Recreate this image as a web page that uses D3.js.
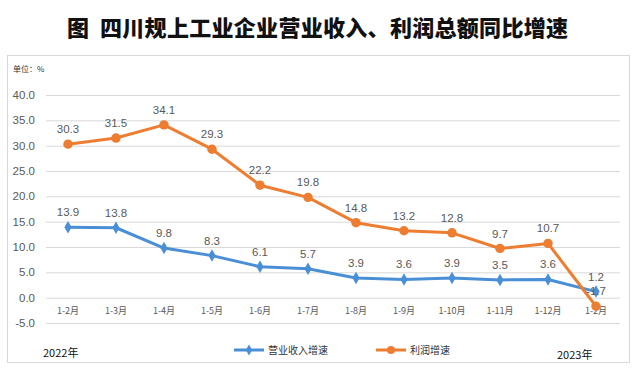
<!DOCTYPE html>
<html>
<head>
<meta charset="utf-8">
<script src="https://cdn.jsdelivr.net/npm/d3@7"></script>
<style>
    body { margin: 0; background: #fff; }
    svg text { font-family: "Noto Sans CJK SC", "Liberation Sans", sans-serif; }
    svg text.num { font-family: "Liberation Sans", Arial, sans-serif; }
</style>
</head>
<body>
<svg class="chart" width="640" height="372"></svg>
<script>
var categories = ["1-2月", "1-3月", "1-4月", "1-5月", "1-6月", "1-7月", "1-8月", "1-9月", "1-10月", "1-11月", "1-12月", "1-2月"];
var revenueGrowth = [13.9, 13.8, 9.8, 8.3, 6.1, 5.7, 3.9, 3.6, 3.9, 3.5, 3.6, 1.2];
var profitGrowth = [30.3, 31.5, 34.1, 29.3, 22.2, 19.8, 14.8, 13.2, 12.8, 9.7, 10.7, -1.7];
var yTicks = [-5, 0, 5, 10, 15, 20, 25, 30, 35, 40];
var seriesNames = ["营业收入增速", "利润增速"];

var blue = "#4a8fd6";
var orange = "#ed7d31";

var svg = d3.select("svg.chart");

// title
svg.append("text")
    .attr("x", 67)
    .attr("y", 36)
    .attr("font-size", 22)
    .attr("font-weight", 900)
    .attr("fill", "#111")
    .text("图");
svg.append("text")
    .attr("x", 100)
    .attr("y", 36)
    .attr("font-size", 22)
    .attr("font-weight", 900)
    .attr("fill", "#111")
    .attr("textLength", 468)
    .text("四川规上工业企业营业收入、利润总额同比增速");

// frame
svg.append("rect")
    .attr("x", 7.5)
    .attr("y", 55.5)
    .attr("width", 622)
    .attr("height", 307)
    .attr("fill", "none")
    .attr("stroke", "#d9d9d9");

svg.append("text")
    .attr("x", 13)
    .attr("y", 72)
    .attr("font-size", 8)
    .attr("fill", "#333")
    .text("单位：%");

var x = d3.scaleBand()
    .domain(d3.range(categories.length))
    .range([44, 620]);

var y = d3.scaleLinear()
    .domain([-5, 40])
    .range([323, 95]);

// grid + y labels
var grid = svg.append("g");
grid.selectAll("line")
    .data(yTicks)
    .enter()
    .append("line")
    .attr("x1", 46)
    .attr("x2", 620)
    .attr("y1", function (d) { return y(d) + 0.5; })
    .attr("y2", function (d) { return y(d) + 0.5; })
    .attr("stroke", "#d9d9d9")
    .attr("stroke-width", 1);

grid.selectAll("text")
    .data(yTicks)
    .enter()
    .append("text")
    .classed("num", true)
    .attr("x", 35)
    .attr("y", function (d) { return y(d) + 4; })
    .attr("text-anchor", "end")
    .attr("font-size", 11.5)
    .attr("fill", "#595959")
    .text(function (d) { return d.toFixed(1); });

// x labels
svg.append("g").selectAll("text")
    .data(categories)
    .enter()
    .append("text")
    .attr("x", function (d, i) { return x(i) + x.bandwidth() / 2; })
    .attr("y", 314)
    .attr("text-anchor", "middle")
    .attr("font-size", 9)
    .attr("fill", "#595959")
    .text(function (d) { return d; });

function cx(i) { return x(i) + x.bandwidth() / 2; }

var line = d3.line()
    .x(function (d, i) { return cx(i); })
    .y(function (d) { return y(d); });

function drawSeries(values, color, shape) {
    var g = svg.append("g");
    g.append("path")
        .attr("d", line(values))
        .attr("fill", "none")
        .attr("stroke", color)
        .attr("stroke-width", 3)
        .attr("stroke-linejoin", "round");
    g.selectAll("path.marker")
        .data(values)
        .enter()
        .append("path")
        .classed("marker", true)
        .attr("transform", function (d, i) { return "translate(" + cx(i) + "," + y(d) + ")"; })
        .attr("d", d3.symbol().type(shape).size(shape === d3.symbolCircle ? 70 : 45))
        .attr("fill", color);
    g.selectAll("text")
        .data(values)
        .enter()
        .append("text")
        .classed("num", true)
        .attr("x", function (d, i) { return cx(i); })
        .attr("y", function (d) { return y(d) - 11; })
        .attr("text-anchor", "middle")
        .attr("font-size", 11.5)
        .attr("fill", "#595959")
        .text(function (d) { return d.toFixed(1); });
}

drawSeries(revenueGrowth, blue, d3.symbolDiamond);
drawSeries(profitGrowth, orange, d3.symbolCircle);

// legend
var legend = [
    { name: seriesNames[0], color: blue, shape: d3.symbolDiamond, x: 234 },
    { name: seriesNames[1], color: orange, shape: d3.symbolCircle, x: 376 }
];
legend.forEach(function (item) {
    var g = svg.append("g").attr("transform", "translate(" + item.x + ",350)");
    g.append("line")
        .attr("x1", 0).attr("x2", 30)
        .attr("stroke", item.color)
        .attr("stroke-width", 3);
    g.append("path")
        .attr("transform", "translate(15,0)")
        .attr("d", d3.symbol().type(item.shape).size(item.shape === d3.symbolCircle ? 50 : 35))
        .attr("fill", item.color);
    g.append("text")
        .attr("x", 34)
        .attr("y", 4)
        .attr("font-size", 10)
        .attr("fill", "#333")
        .text(item.name);
});

svg.append("text")
    .attr("x", 43)
    .attr("y", 357)
    .attr("font-size", 11)
    .attr("fill", "#111")
    .text("2022年");

svg.append("text")
    .attr("x", 557)
    .attr("y", 359)
    .attr("font-size", 11)
    .attr("fill", "#111")
    .text("2023年");
</script>
</body>
</html>
